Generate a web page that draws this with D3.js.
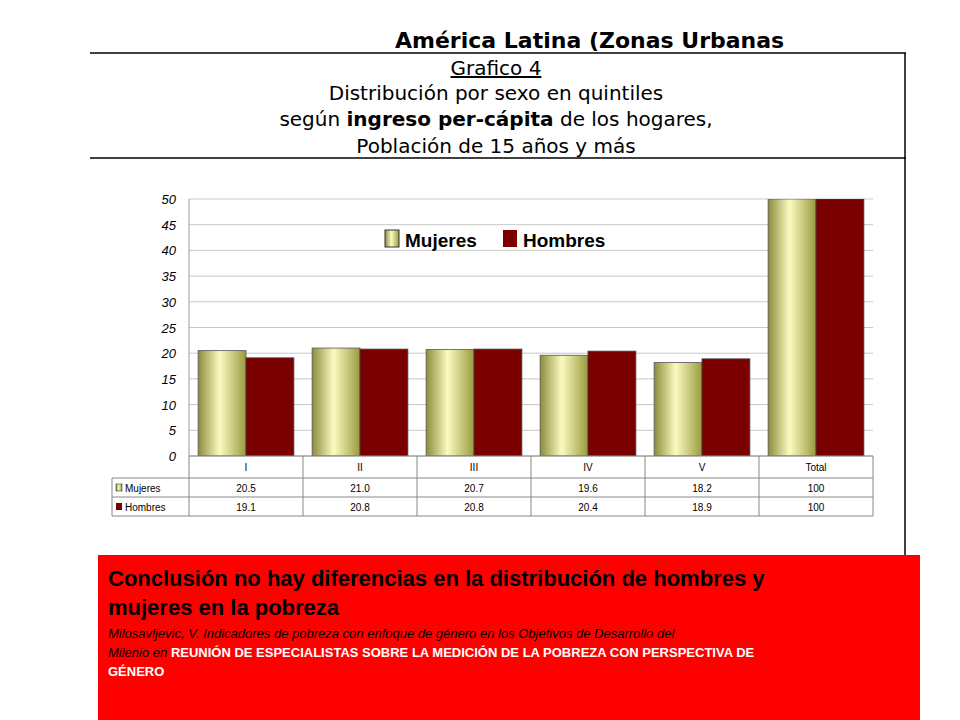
<!DOCTYPE html>
<html><head><meta charset="utf-8">
<script src="https://cdn.jsdelivr.net/npm/d3@7"></script>
<style>body{margin:0;background:#fff}svg{display:block}</style>
</head><body>
<svg id="c" width="960" height="720"></svg>
<script>
// --------------- Data ---------------
const categories = ["I", "II", "III", "IV", "V", "Total"];
const mujeres = [20.5, 21.0, 20.7, 19.6, 18.2, 100];
const hombres = [19.1, 20.8, 20.8, 20.4, 18.9, 100];
const mujeresLabels = ["20.5", "21.0", "20.7", "19.6", "18.2", "100"];
const hombresLabels = ["19.1", "20.8", "20.8", "20.4", "18.9", "100"];
const yTicks = [0, 5, 10, 15, 20, 25, 30, 35, 40, 45, 50];

const svg = d3.select("#c");
const F = "Verdana, DejaVu Sans, sans-serif";

// --------------- Frame and titles ---------------
svg.append("text").attr("x", 395).attr("y", 48).attr("font-family", F)
  .attr("font-weight", "bold").attr("font-size", 22).text("América Latina (Zonas Urbanas");
svg.append("rect").attr("x", 905).attr("y", 20).attr("width", 55).attr("height", 35).attr("fill", "#fff");
svg.append("line").attr("x1", 90).attr("x2", 906).attr("y1", 53).attr("y2", 53).attr("stroke", "#000").attr("stroke-width", 1.5);
svg.append("line").attr("x1", 90).attr("x2", 906).attr("y1", 158).attr("y2", 158).attr("stroke", "#000").attr("stroke-width", 1.5);
svg.append("line").attr("x1", 905).attr("x2", 905).attr("y1", 53).attr("y2", 556).attr("stroke", "#000").attr("stroke-width", 1.5);

const titles = [["Grafico 4"], ["Distribución por sexo en quintiles"], null, ["Población de 15 años y más"]];
svg.append("text").attr("x", 496).attr("y", 75).attr("text-anchor", "middle").attr("font-family", F)
  .attr("font-size", 20).attr("text-decoration", "underline").text("Grafico 4");
svg.append("text").attr("x", 496).attr("y", 100).attr("text-anchor", "middle").attr("font-family", F)
  .attr("font-size", 20).text("Distribución por sexo en quintiles");
const t3 = svg.append("text").attr("x", 496).attr("y", 126).attr("text-anchor", "middle").attr("font-family", F).attr("font-size", 20);
t3.append("tspan").text("según ");
t3.append("tspan").attr("font-weight", "bold").text("ingreso per-cápita");
t3.append("tspan").text(" de los hogares,");
svg.append("text").attr("x", 496).attr("y", 153).attr("text-anchor", "middle").attr("font-family", F)
  .attr("font-size", 20).text("Población de 15 años y más");

// --------------- Chart ---------------
const x = d3.scaleBand().domain(categories).range([189, 873]);
const y = d3.scaleLinear().domain([0, 50]).range([456, 199]);

const defs = svg.append("defs");
const g1 = defs.append("linearGradient").attr("id", "yel");
g1.append("stop").attr("offset", "0%").attr("stop-color", "#8c8c3c");
g1.append("stop").attr("offset", "45%").attr("stop-color", "#fbfbc0");
g1.append("stop").attr("offset", "100%").attr("stop-color", "#9a9a40");
const clip = defs.append("clipPath").attr("id", "plot");
clip.append("rect").attr("x", 189).attr("y", 199).attr("width", 684).attr("height", 257);

svg.append("g").selectAll("line").data(yTicks).join("line")
  .attr("x1", 189).attr("x2", 873).attr("y1", d => y(d)).attr("y2", d => y(d))
  .attr("stroke", "#c8c8c8").attr("stroke-width", 1);
svg.append("line").attr("x1", 189).attr("x2", 189).attr("y1", 199).attr("y2", 456).attr("stroke", "#999");

const bw = x.bandwidth() * 0.42;
const bars = svg.append("g").attr("clip-path", "url(#plot)");
bars.selectAll(".m").data(categories).join("rect")
  .attr("x", (d) => x(d) + x.bandwidth() / 2 - bw).attr("width", bw)
  .attr("y", (d, i) => y(Math.min(mujeres[i], 50))).attr("height", (d, i) => y(0) - y(Math.min(mujeres[i], 50)))
  .attr("fill", "url(#yel)").attr("stroke", "#555").attr("stroke-width", 0.8);
bars.selectAll(".h").data(categories).join("rect")
  .attr("x", (d) => x(d) + x.bandwidth() / 2).attr("width", bw)
  .attr("y", (d, i) => y(Math.min(hombres[i], 50))).attr("height", (d, i) => y(0) - y(Math.min(hombres[i], 50)))
  .attr("fill", "#7a0000").attr("stroke", "#444").attr("stroke-width", 0.8);

svg.append("g").selectAll("text").data(yTicks).join("text")
  .attr("x", 176).attr("y", d => y(d) + 5).attr("text-anchor", "end")
  .attr("font-family", "Arial, Liberation Sans").attr("font-size", 13).attr("font-style", "italic").text(d => d);

// Legend
const lg = svg.append("g").attr("font-family", "Arial, Liberation Sans").attr("font-weight", "bold").attr("font-size", 19);
lg.append("rect").attr("x", 385).attr("y", 230).attr("width", 14).attr("height", 17).attr("fill", "url(#yel)").attr("stroke", "#333");
lg.append("text").attr("x", 405).attr("y", 247).text("Mujeres");
lg.append("rect").attr("x", 503).attr("y", 230).attr("width", 14).attr("height", 17).attr("fill", "#7a0000");
lg.append("text").attr("x", 523).attr("y", 247).text("Hombres");

// --------------- Data table ---------------
const tb = svg.append("g").attr("font-family", "Arial, Liberation Sans").attr("font-size", 10);
const rows = [456, 478, 497, 516];
tb.selectAll(".hl").data(rows).join("line")
  .attr("x1", (d, i) => i === 0 ? 189 : 112).attr("x2", 873).attr("y1", d => d).attr("y2", d => d)
  .attr("stroke", "#888");
tb.selectAll(".vl").data(categories.concat(["end"])).join("line")
  .attr("x1", d => d === "end" ? 873 : x(d)).attr("x2", d => d === "end" ? 873 : x(d))
  .attr("y1", 456).attr("y2", 516).attr("stroke", "#888");
tb.append("line").attr("x1", 112).attr("x2", 112).attr("y1", 478).attr("y2", 516).attr("stroke", "#888");
tb.selectAll(".cat").data(categories).join("text")
  .attr("x", d => x(d) + x.bandwidth() / 2).attr("y", 471).attr("text-anchor", "middle").text(d => d);
tb.selectAll(".mv").data(mujeresLabels).join("text")
  .attr("x", (d, i) => x(categories[i]) + x.bandwidth() / 2).attr("y", 492).attr("text-anchor", "middle").text(d => d);
tb.selectAll(".hv").data(hombresLabels).join("text")
  .attr("x", (d, i) => x(categories[i]) + x.bandwidth() / 2).attr("y", 511).attr("text-anchor", "middle").text(d => d);
tb.append("rect").attr("x", 116).attr("y", 484).attr("width", 6).attr("height", 7).attr("fill", "url(#yel)").attr("stroke", "#333").attr("stroke-width", 0.6);
tb.append("text").attr("x", 125).attr("y", 492).text("Mujeres");
tb.append("rect").attr("x", 116).attr("y", 503).attr("width", 6).attr("height", 7).attr("fill", "#7a0000");
tb.append("text").attr("x", 125).attr("y", 511).text("Hombres");

// --------------- Red box ---------------
svg.append("rect").attr("x", 98).attr("y", 555).attr("width", 822).attr("height", 165).attr("fill", "#ff0000");
const rb = svg.append("g").attr("font-family", "Arial, Liberation Sans");
rb.append("text").attr("x", 108).attr("y", 586).attr("font-size", 22).attr("font-weight", "bold").text("Conclusión no hay diferencias en la distribución de hombres y");
rb.append("text").attr("x", 108).attr("y", 615).attr("font-size", 22).attr("font-weight", "bold").text("mujeres en la pobreza");
rb.append("text").attr("x", 108).attr("y", 638).attr("font-size", 13).attr("font-style", "italic")
  .text("Milosavljevic, V. Indicadores de pobreza con enfoque de género  en los Objetivos de Desarrollo del");
const l2 = rb.append("text").attr("x", 108).attr("y", 657).attr("font-size", 13);
l2.append("tspan").attr("font-style", "italic").text("Milenio en ");
l2.append("tspan").attr("fill", "#fff").attr("font-weight", "bold").text("REUNIÓN DE ESPECIALISTAS SOBRE LA MEDICIÓN DE LA POBREZA CON PERSPECTIVA DE");
rb.append("text").attr("x", 108).attr("y", 676).attr("font-size", 13).attr("fill", "#fff").attr("font-weight", "bold").text("GÉNERO");
</script>
</body></html>
